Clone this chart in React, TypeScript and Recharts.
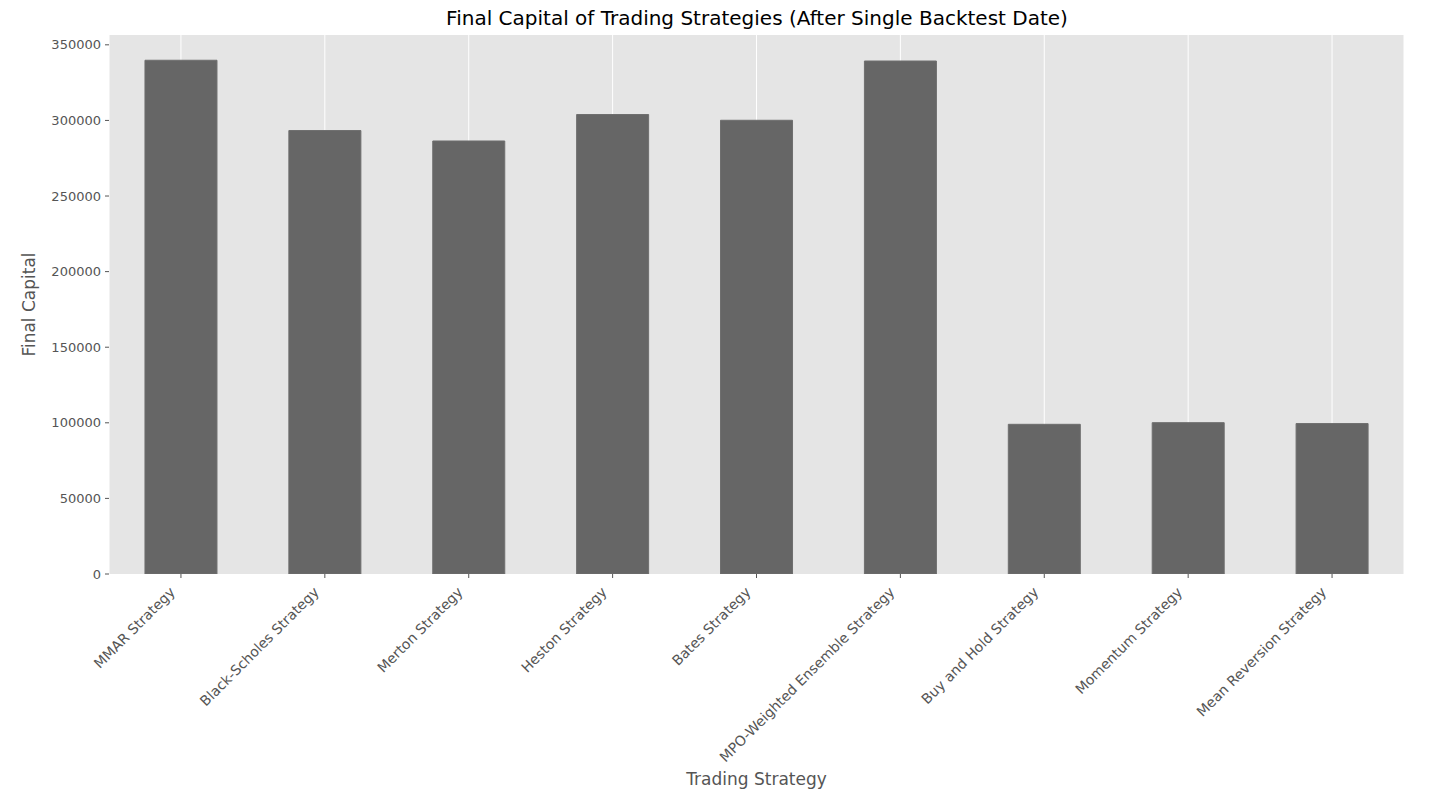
import React from "react";
import { BarChart, Bar, XAxis, YAxis, CartesianGrid, Label } from "recharts";

const strategies = [
  "MMAR Strategy",
  "Black-Scholes Strategy",
  "Merton Strategy",
  "Heston Strategy",
  "Bates Strategy",
  "MPO-Weighted Ensemble Strategy",
  "Buy and Hold Strategy",
  "Momentum Strategy",
  "Mean Reversion Strategy",
];
const finalCapital = [339800, 293300, 286400, 303900, 300100, 339300, 99000, 100100, 99500];
const yTicks = [0, 50000, 100000, 150000, 200000, 250000, 300000, 350000];

const data = strategies.map((s, i) => ({ strategy: s, capital: finalCapital[i] }));

const FONT = "DejaVu Sans, sans-serif";

const XTick = (props: any) => {
  const { x, y, payload } = props;
  const ax = x - 5;
  const ay = y + 11;
  return (
    <g>
      <line x1={x} y1={y - 8} x2={x} y2={y - 4} stroke="#555" strokeWidth={1} />
      <text
        x={ax}
        y={ay}
        transform={`rotate(-45 ${ax} ${ay})`}
        textAnchor="end"
        fontSize={14}
        fontFamily={FONT}
        fill="#555"
      >
        {payload.value}
      </text>
    </g>
  );
};

export default function App() {
  return (
    <div style={{ position: "absolute", left: 0, top: 0, width: 1456, height: 812, background: "#fff" }}>
      <div
        style={{
          position: "absolute",
          top: 6,
          left: 0,
          width: 1456,
          textAlign: "center",
          fontFamily: FONT,
          fontSize: 20,
          color: "#000",
          paddingLeft: 58,
          boxSizing: "border-box",
        }}
      >
        Final Capital of Trading Strategies (After Single Backtest Date)
      </div>
      <BarChart
        width={1456}
        height={812}
        data={data}
        margin={{ top: 35, right: 52, left: 0, bottom: 0 }}
        barCategoryGap="25%"
      >
        <CartesianGrid horizontal={false} vertical={true} stroke="#ffffff" strokeWidth={1} fill="#E5E5E5" />
        <XAxis
          dataKey="strategy"
          height={238}
          axisLine={false}
          tickLine={false}
          interval={0}
          tick={<XTick />}
        >
          <Label
            value="Trading Strategy"
            position="insideBottom"
            offset={27}
            style={{ fontFamily: FONT, fontSize: 17, fill: "#555" }}
          />
        </XAxis>
        <YAxis
          width={109}
          domain={[0, 356500]}
          ticks={yTicks}
          interval={0}
          axisLine={false}
          tickLine={{ stroke: "#555" }}
          tickSize={4}
          tickMargin={4}
          tick={{ fontFamily: FONT, fontSize: 13, fill: "#555" }}
          allowDataOverflow
        >
          <Label
            value="Final Capital"
            angle={-90}
            position="insideLeft"
            offset={29}
            style={{ fontFamily: FONT, fontSize: 17, fill: "#555", textAnchor: "middle" }}
          />
        </YAxis>
        <Bar dataKey="capital" fill="#666666" stroke="#6e6e6e" strokeWidth={1} isAnimationActive={false} />
      </BarChart>
    </div>
  );
}
